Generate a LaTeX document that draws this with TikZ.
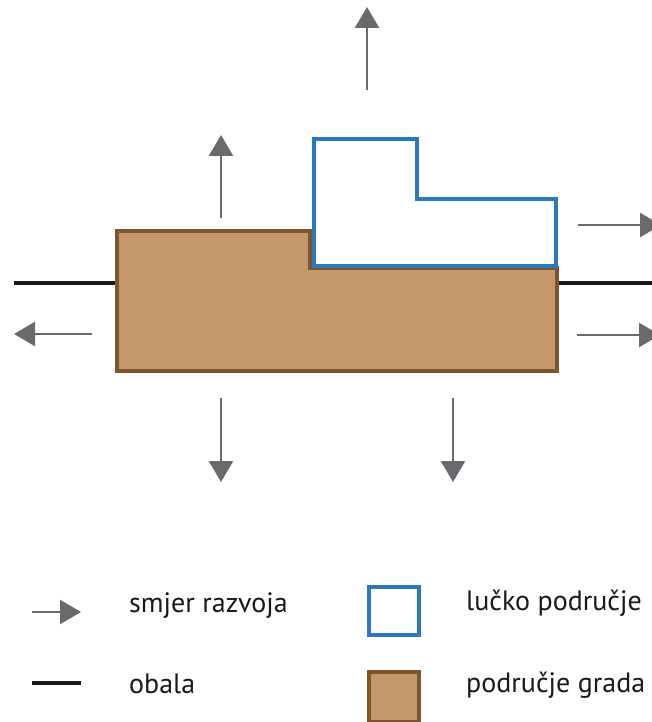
\documentclass[tikz,border=0pt]{standalone}
\usepackage{fontspec}
\setmainfont{PT Sans}
\usepackage{tikz}
\usetikzlibrary{arrows.meta}

\definecolor{strelica}{RGB}{106,106,110}
\definecolor{plava}{RGB}{42,120,190}
\definecolor{smeda}{RGB}{196,152,106}
\definecolor{smedarub}{RGB}{127,85,48}

\begin{document}
\begin{tikzpicture}[x=1pt,y=-1pt,
	razvoj/.style={draw=strelica,line width=2.5pt,-{Triangle[length=21pt,width=24pt]}},
	obala/.style={draw=black!90,line width=4.5pt},
	luka/.style={draw=plava,line width=4.5pt,fill=white},
	grad/.style={draw=smedarub,line width=4.5pt,fill=smeda},
	opis/.style={anchor=base west,inner sep=0pt,font=\fontsize{28}{33}\selectfont,text=black!90}]
	\clip (0,0) rectangle (652,722);
	% obala
	\coordinate (oL) at (14,283);
	\coordinate (oR) at (660,283);
	\draw[obala] (oL) -- (oR);
	% podrucje grada i lucko podrucje
	\draw[grad] (117,231) -- (310,231) -- (310,268) -- (557,268) -- (557,371) -- (117,371) -- cycle;
	\draw[luka] (314,139) -- (417,139) -- (417,199) -- (556,199) -- (556,266) -- (314,266) -- cycle;
	% smjerovi razvoja
	\foreach \a/\b in {{367,90}/{367,7}, {221,218}/{221,135}, {221,398}/{221,482},
	                   {453,398}/{453,482}, {92,334}/{14,334}, {578,225}/{661,225},
	                   {577,335}/{660,335}}
		\draw[razvoj] (\a) -- (\b);
	% legenda
	\coordinate (lA) at (32,612);
	\coordinate (lB) at (81,612);
	\draw[razvoj] (lA) -- (lB);
	\node[opis] (tRazvoj) at (129,612) {smjer razvoja};
	\coordinate (lC) at (32,683);
	\coordinate (lD) at (81,683);
	\draw[obala] (lC) -- (lD);
	\node[opis] (tObala) at (129,693) {obala};
	\draw[luka] (369,587) rectangle (419,635);
	\node[opis] (tLuka) at (466,610) {lučko područje};
	\draw[grad] (369,672) rectangle (419,722);
	\node[opis] (tGrad) at (466,692) {područje grada};
\end{tikzpicture}
\end{document}
